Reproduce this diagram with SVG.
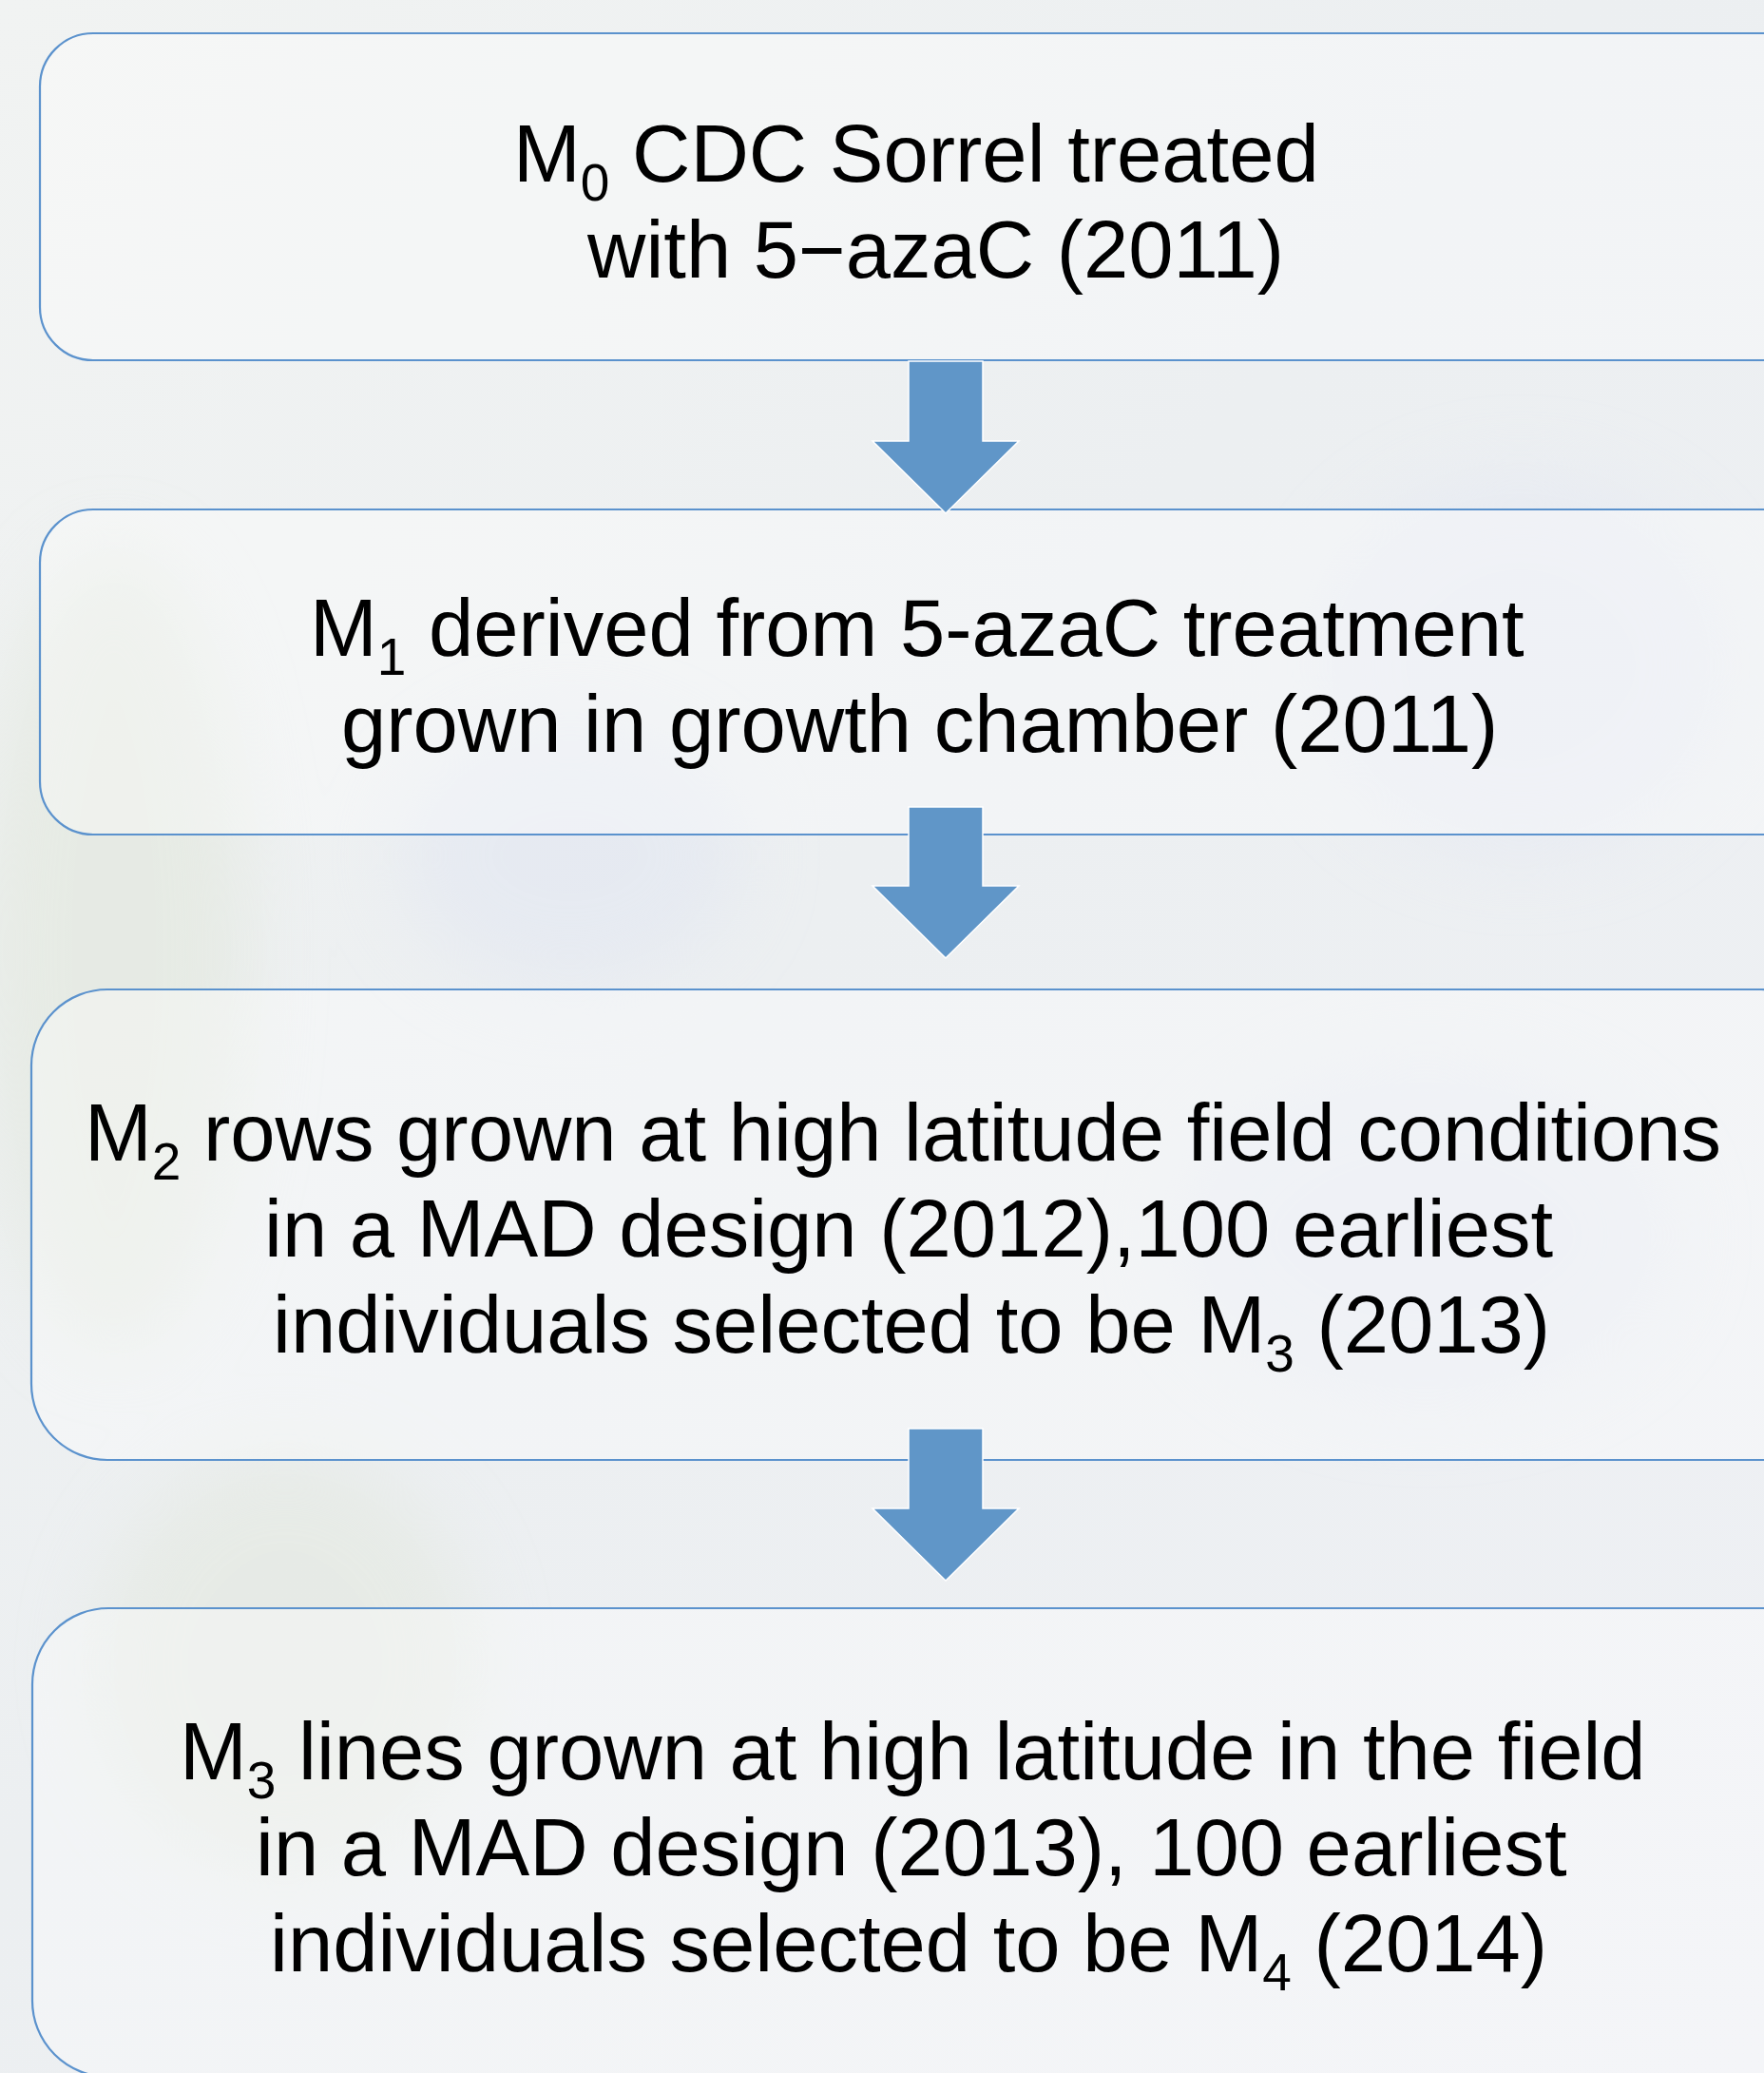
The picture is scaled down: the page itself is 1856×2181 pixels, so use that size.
<svg xmlns="http://www.w3.org/2000/svg" width="1856" height="2181" viewBox="0 0 1856 2181">
<defs>
<style>
.box{fill:#ffffff;fill-opacity:0.35;stroke:#5b92cd;stroke-width:2.2}
.arrow{fill:#6096c8;stroke:#ffffff;stroke-width:1.5;stroke-linejoin:miter}
.t{font-family:"Liberation Sans",Arial,sans-serif;font-size:85px;fill:#000000}
.sub{font-size:55px}
</style>
<linearGradient id="bg" x1="0" y1="0" x2="1" y2="1">
<stop offset="0" stop-color="#f1f3f2"/>
<stop offset="0.45" stop-color="#eceff1"/>
<stop offset="1" stop-color="#eef0f4"/>
</linearGradient>
<filter id="blur" x="-50%" y="-50%" width="200%" height="200%"><feGaussianBlur stdDeviation="40"/></filter>
</defs>
<rect x="0" y="0" width="1856" height="2181" fill="url(#bg)"/>
<g filter="url(#blur)" opacity="0.5">
<ellipse cx="120" cy="1000" rx="140" ry="420" fill="#dfe5d8"/>
<ellipse cx="600" cy="900" rx="180" ry="140" fill="#e0e5f2"/>
<ellipse cx="1600" cy="700" rx="220" ry="200" fill="#e3e7f3"/>
<ellipse cx="300" cy="1750" rx="200" ry="220" fill="#e2e7dc"/>
<ellipse cx="1500" cy="1300" rx="260" ry="180" fill="#e2e6f1"/>
</g>
<g id="node-m0">
<rect class="box" x="42" y="35" width="1900" height="344" rx="56" ry="56"/>
<text class="t" x="540" y="191">M<tspan class="sub" dy="20">0</tspan><tspan dy="-20"> CDC Sorrel treated</tspan></text>
<text class="t" x="618" y="292">with 5−azaC (2011)</text>
</g>
<g id="node-m1">
<rect class="box" x="42" y="536" width="1900" height="342" rx="56" ry="56"/>
<text class="t" x="326" y="690">M<tspan class="sub" dy="20">1</tspan><tspan dy="-20"> derived from 5-azaC treatment</tspan></text>
<text class="t" x="359" y="791">grown in growth chamber (2011)</text>
</g>
<g id="node-m2">
<rect class="box" x="33" y="1041" width="1900" height="495" rx="80" ry="80"/>
<text class="t" x="89" y="1221">M<tspan class="sub" dy="20">2</tspan><tspan dy="-20"> rows grown at high latitude field conditions</tspan></text>
<text class="t" x="278" y="1322">in a MAD design (2012),100 earliest</text>
<text class="t" x="287" y="1423">individuals selected to be M<tspan class="sub" dy="20">3</tspan><tspan dy="-20"> (2013)</tspan></text>
</g>
<g id="node-m3">
<rect class="box" x="34" y="1692" width="1900" height="493" rx="80" ry="80"/>
<text class="t" x="189" y="1872">M<tspan class="sub" dy="20">3</tspan><tspan dy="-20"> lines grown at high latitude in the field</tspan></text>
<text class="t" x="269" y="1973">in a MAD design (2013), 100 earliest</text>
<text class="t" x="284" y="2074">individuals selected to be M<tspan class="sub" dy="20">4</tspan><tspan dy="-20"> (2014)</tspan></text>
</g>
<g id="connectors">
<polygon class="arrow" points="956,380 1034,380 1034,464 1072,464 995,540 918,464 956,464"/>
<polygon class="arrow" points="956,849 1034,849 1034,932 1072,932 995,1008 918,932 956,932"/>
<polygon class="arrow" points="956,1503 1034,1503 1034,1587 1072,1587 995,1663 918,1587 956,1587"/>
</g>
</svg>
